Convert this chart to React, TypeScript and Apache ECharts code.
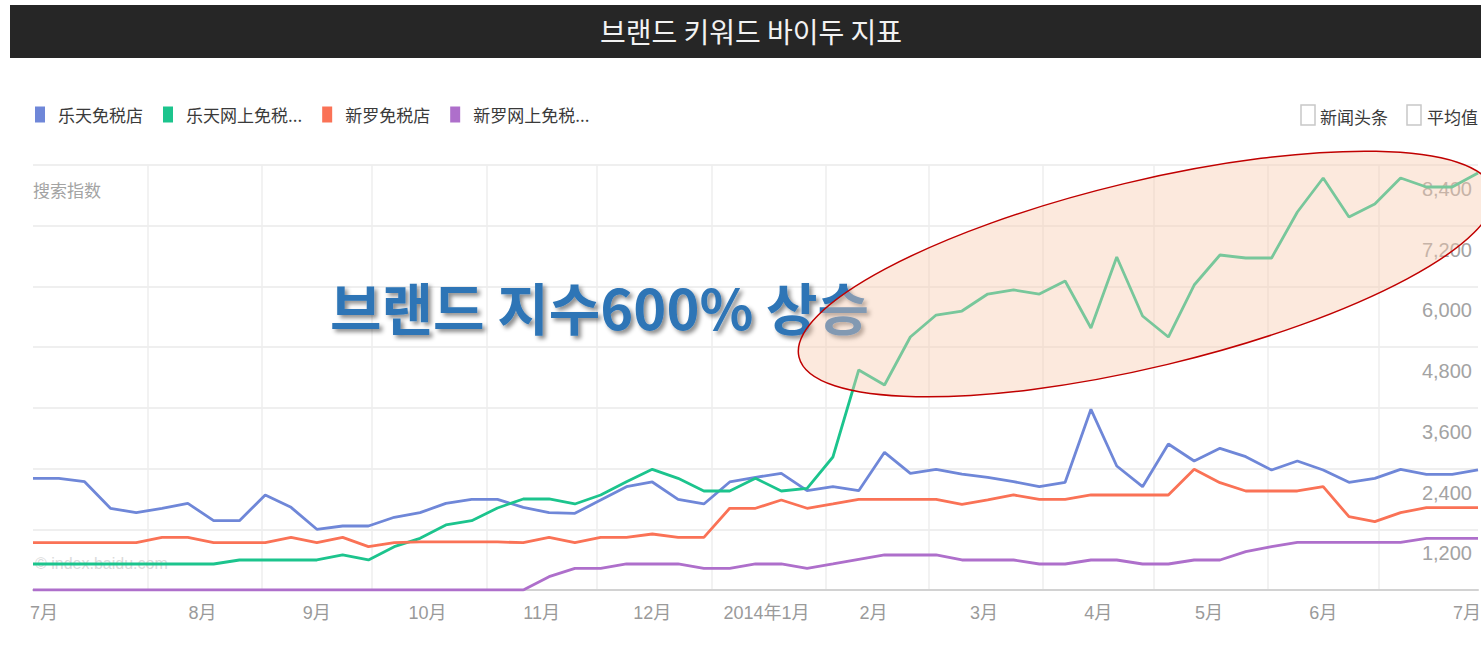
import React, { useEffect, useRef } from 'react';
import * as echarts from 'echarts';

// ---------- data ----------
const START_DATE = '2013-07-01';
const END_DATE = '2014-07-28';
const DAY_MS = 86400000;

// weekly points (Mondays) from 2013-07-01 to 2014-07-28
const WEEK_COUNT = 57;

const monthStarts = [
  '2013-08-01', '2013-09-01', '2013-10-01', '2013-11-01', '2013-12-01', '2014-01-01',
  '2014-02-01', '2014-03-01', '2014-04-01', '2014-05-01', '2014-06-01', '2014-07-01',
];
const monthLabelDates = [
  '2013-07-04', '2013-08-16', '2013-09-16', '2013-10-16', '2013-11-16', '2013-12-16',
  '2014-01-16', '2014-02-14', '2014-03-16', '2014-04-16', '2014-05-16', '2014-06-16', '2014-07-25',
];
const monthLabels = ['7月', '8月', '9月', '10月', '11月', '12月', '2014年1月', '2月', '3月', '4月', '5月', '6月', '7月'];

const yMin = 0;
const yMax = 8400;
const yInterval = 1200;

const seriesNames = ['乐天免税店', '乐天网上免税店', '新罗免税店', '新罗网上免税店'];
const seriesColors = ['#6F87D8', '#1CC48D', '#FA7256', '#AE6FCB'];

const lotteDutyFree = [
  2208, 2208, 2141, 1615, 1528, 1615, 1713, 1370, 1370, 1878,
  1634, 1200, 1265, 1265, 1437, 1528, 1713, 1793, 1790, 1634,
  1528, 1515, 1779, 2042, 2135, 1792, 1700, 2135, 2227, 2306,
  1963, 2042, 1963, 2721, 2306, 2385, 2290, 2227, 2141, 2042,
  2128, 3571, 2451, 2042, 2886, 2550, 2800, 2635, 2372, 2550,
  2372, 2128, 2207, 2385, 2286, 2286, 2372,
];
const lotteOnline = [
  514, 514, 514, 514, 514, 514, 514, 514, 593, 593,
  593, 593, 692, 593, 856, 1021, 1285, 1370, 1620, 1799,
  1799, 1700, 1878, 2141, 2385, 2207, 1957, 1957, 2207, 1957,
  2010, 2629, 4348, 4052, 5000, 5435, 5514, 5850, 5930, 5850,
  6107, 5178, 6582, 5416, 5000, 6028, 6621, 6562, 6562, 7471,
  8143, 7372, 7629, 8143, 7965, 7965, 8242,
];
const shillaDutyFree = [
  935, 935, 935, 935, 935, 1041, 1041, 935, 935, 935,
  1041, 935, 1041, 856, 935, 950, 950, 950, 950, 935,
  1041, 935, 1041, 1041, 1107, 1041, 1041, 1615, 1615, 1779,
  1615, 1700, 1792, 1792, 1792, 1792, 1690, 1779, 1878, 1792,
  1792, 1878, 1878, 1878, 1878, 2385, 2121, 1957, 1957, 1957,
  2042, 1449, 1350, 1528, 1627, 1627, 1627,
];
const shillaOnline = [
  0, 0, 0, 0, 0, 0, 0, 0, 0, 0,
  0, 0, 0, 0, 0, 0, 0, 0, 0, 0,
  264, 428, 428, 514, 514, 514, 428, 428, 514, 514,
  428, 514, 606, 692, 692, 692, 593, 593, 593, 514,
  514, 593, 593, 514, 514, 593, 593, 757, 856, 942,
  942, 942, 942, 942, 1021, 1021, 1021,
];
const seriesValues = [lotteDutyFree, lotteOnline, shillaDutyFree, shillaOnline];

// ---------- helpers ----------
const dayOffset = (d: string) =>
  Math.round((Date.parse(d + 'T00:00:00Z') - Date.parse(START_DATE + 'T00:00:00Z')) / DAY_MS);
const totalDays = dayOffset(END_DATE);
const weekOffsets = Array.from({ length: WEEK_COUNT }, (_, i) => i * 7);
const monthStartOffsets = monthStarts.map(dayOffset);
const monthLabelOffsets = monthLabelDates.map(dayOffset);

const AXIS_FONT = '"Liberation Sans", Arial, "Noto Sans CJK SC", sans-serif';
const CJK_FONT = '"Noto Sans CJK SC", "Liberation Sans", sans-serif';
const KR_FONT = '"Noto Sans CJK KR", "Noto Sans", sans-serif';

export default function App() {
  const ref = useRef<HTMLDivElement>(null);

  useEffect(() => {
    if (!ref.current) return;
    const chart = echarts.init(ref.current, undefined, { renderer: 'svg' });

    const option: any = {
      animation: false,
      backgroundColor: '#ffffff',
      textStyle: { fontFamily: CJK_FONT },
      legend: {
        left: 35,
        top: 106,
        padding: 0,
        itemWidth: 10,
        itemHeight: 16,
        itemGap: 20,
        icon: 'rect',
        data: seriesNames,
        formatter: (name: string) => (name.length > 6 ? name.slice(0, 6) + '...' : name),
        textStyle: { color: '#3A3A3A', fontSize: 17, fontFamily: CJK_FONT, padding: [0, 0, 0, 8] },
      },
      grid: {
        left: 33,
        right: 3,
        top: 165,
        bottom: 55,
        containLabel: false,
        outerBoundsMode: 'none',
      },
      xAxis: {
        type: 'value',
        min: 0,
        max: totalDays,
        axisLine: { show: true, lineStyle: { color: '#D2D2D2', width: 2 } },
        axisTick: { show: false, customValues: monthStartOffsets },
        splitLine: { show: true, lineStyle: { color: '#EEEEEE', width: 1.5 } },
        axisLabel: {
          customValues: monthLabelOffsets,
          formatter: (v: number) => {
            const idx = monthLabelOffsets.indexOf(v);
            return idx >= 0 ? monthLabels[idx] : '';
          },
          color: '#9A9A9A',
          fontSize: 18,
          margin: 14,
          fontFamily: AXIS_FONT,
        },
      },
      yAxis: {
        type: 'value',
        position: 'right',
        min: yMin,
        max: yMax,
        interval: yInterval,
        axisLine: { show: false },
        axisTick: { show: false },
        splitLine: { show: true, lineStyle: { color: '#EFEFEF', width: 2 } },
        axisLabel: {
          inside: true,
          margin: 6,
          verticalAlign: 'top',
          padding: [14, 0, 0, 0],
          color: '#A3A3A3',
          fontSize: 20,
          fontFamily: AXIS_FONT,
          formatter: (v: number) => (v === 0 ? '' : v.toLocaleString('en-US')),
        },
      },
      series: seriesNames.map((name, si) => ({
        name,
        type: 'line',
        showSymbol: false,
        symbol: 'none',
        color: seriesColors[si],
        lineStyle: { width: 2.8, color: seriesColors[si] },
        data: seriesValues[si].map((v, i) => [weekOffsets[i], v]),
        z: 3,
      })),
      graphic: [
        // title bar
        {
          type: 'rect',
          shape: { x: 10, y: 5, width: 1480, height: 53 },
          style: { fill: '#262626' },
          z: 10,
        },
        {
          type: 'text',
          x: 751,
          y: 31,
          style: {
            text: '브랜드 키워드 바이두 지표',
            fill: '#F2F2F2',
            font: `28px ${KR_FONT}`,
            align: 'center',
            verticalAlign: 'middle',
          },
          z: 11,
        },
        // top-right checkboxes
        {
          type: 'rect',
          shape: { x: 1301, y: 105, width: 14, height: 20 },
          style: { fill: '#fff', stroke: '#C8C8C8', lineWidth: 1.5 },
          z: 10,
        },
        {
          type: 'text',
          x: 1320,
          y: 116,
          style: { text: '新闻头条', fill: '#3A3A3A', font: `17px ${CJK_FONT}`, verticalAlign: 'middle' },
          z: 10,
        },
        {
          type: 'rect',
          shape: { x: 1407, y: 105, width: 14, height: 20 },
          style: { fill: '#fff', stroke: '#C8C8C8', lineWidth: 1.5 },
          z: 10,
        },
        {
          type: 'text',
          x: 1427,
          y: 116,
          style: { text: '平均值', fill: '#3A3A3A', font: `17px ${CJK_FONT}`, verticalAlign: 'middle' },
          z: 10,
        },
        // y axis caption
        {
          type: 'text',
          x: 33,
          y: 189,
          style: { text: '搜索指数', fill: '#A3A3A3', font: `17px ${CJK_FONT}`, verticalAlign: 'middle' },
          z: 10,
        },
        // watermark
        {
          type: 'text',
          x: 35,
          y: 563,
          style: { text: '© index.baidu.com', fill: '#DADADA', font: `16px ${AXIS_FONT}`, verticalAlign: 'middle' },
          z: 1,
        },
        // annotation text
        {
          type: 'text',
          x: 330,
          y: 305,
          style: {
            text: '브랜드 지수600% 상승',
            fill: '#2E75B6',
            font: `bold 56px ${KR_FONT}`,
            verticalAlign: 'middle',
            textShadowColor: 'rgba(0,0,0,0.45)',
            textShadowBlur: 4,
            textShadowOffsetX: 3,
            textShadowOffsetY: 3,
          },
          z: 20,
        },
        // highlight ellipse
        {
          type: 'ellipse',
          x: 1146,
          y: 274,
          rotation: (13.5 * Math.PI) / 180,
          shape: { cx: 0, cy: 0, rx: 357, ry: 93 },
          style: { fill: 'rgba(248,203,173,0.42)', stroke: '#C00000', lineWidth: 1.5 },
          z: 30,
        },
      ],
    };

    chart.setOption(option);
    return () => chart.dispose();
  }, []);

  return (
    <div
      ref={ref}
      style={{ position: 'fixed', left: 0, top: 0, width: 1481, height: 645, background: '#fff' }}
    />
  );
}
